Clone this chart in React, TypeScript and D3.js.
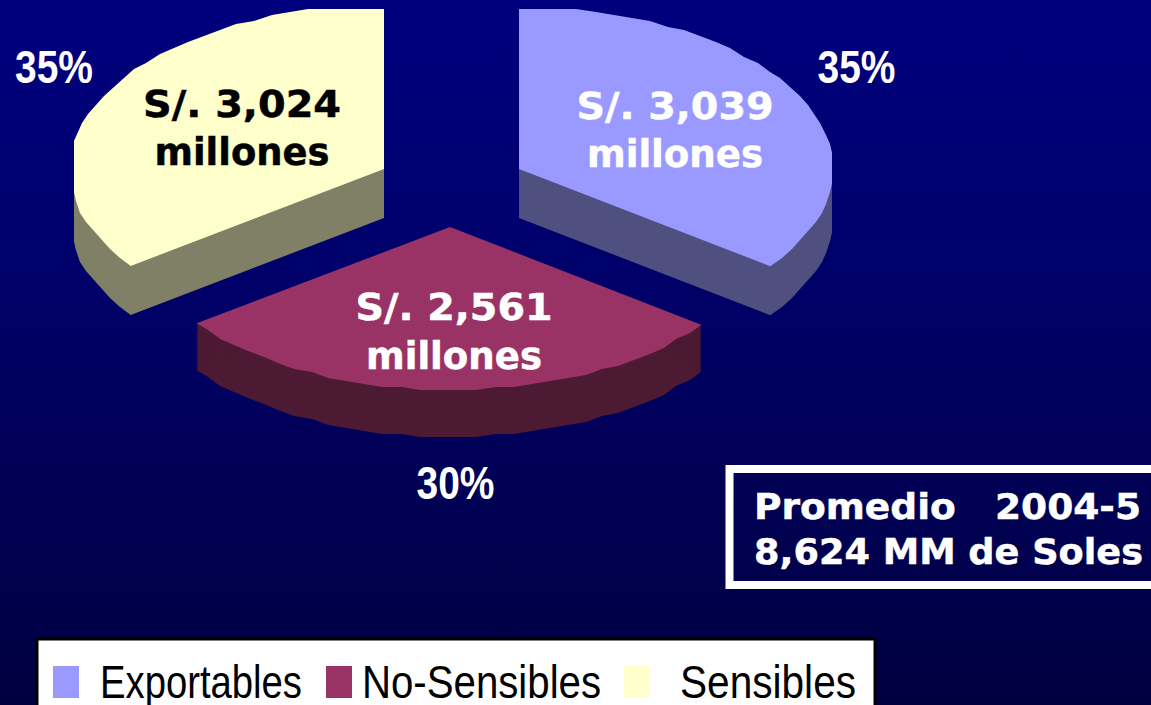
import React from "react";
import * as d3 from "d3";

const categories = ["Exportables", "No-Sensibles", "Sensibles"];
const values = [3039, 2561, 3024];
const percents = ["35%", "30%", "35%"];
const amounts = ["S/. 3,039", "S/. 2,561", "S/. 3,024"];
const topColors = ["#9999ff", "#993366", "#ffffcc"];
const sideColors = ["#4f4f80", "#4d1a33", "#808066"];
const boxLines = ["Promedio   2004-5", "8,624 MM de Soles"];

const W = 1151, H = 705;
const apex = [{ x: 519, y: 169, dy: 49 }, { x: 450, y: 227, dy: 47 }, { x: 384, y: 169, dy: 49 }];
const radius = [
  { rx: 314, ry: 162, minX: 0, maxX: 833 },
  { rx: 314, ry: 163, minX: 0, maxX: 1151 },
  { rx: 314, ry: 164, minX: 73, maxX: 1151 },
];
const amountPos = [
  { x: 675, y1: 119, y2: 167, w1: 197, w2: 176, fill: "#ffffff" },
  { x: 454, y1: 320, y2: 369, w1: 197, w2: 176, fill: "#ffffff" },
  { x: 242, y1: 117, y2: 165, w1: 198, w2: 175, fill: "#000000" },
];
const pctPos = [{ x: 856.5, y: 83 }, { x: 455.5, y: 499 }, { x: 54, y: 83 }];
const legendPos = [
  { sx: 53, tx: 100, tw: 202 },
  { sx: 326, tx: 362, tw: 239 },
  { sx: 624, tx: 680, tw: 176 },
];

const pie = d3.pie<number>().sort(null).startAngle(0).endAngle(2 * Math.PI);
const arcs = pie(values);
const unit = d3.scaleLinear().domain([-1, 1]);
const line = d3.line<[number, number]>();

function slicePoints(i: number): [number, number][] {
  const a = arcs[i], c = apex[i], r = radius[i];
  const sx = unit.copy().range([c.x - r.rx, c.x + r.rx]);
  const sy = unit.copy().range([c.y + r.ry, c.y - r.ry]);
  const n = Math.round(((a.endAngle - a.startAngle) * 180) / Math.PI / 3.5);
  const angle = d3.scaleLinear().domain([0, n]).range([a.startAngle, a.endAngle]);
  const rim: [number, number][] = d3.range(n + 1).map((k) => {
    const t = angle(k);
    const px = Math.min(Math.max(sx(Math.sin(t)), r.minX), r.maxX);
    const py = sy(Math.cos(t));
    if (k === 0 || k === n) return [px, Math.max(py, 9)];
    return [Math.round(px / 2) * 2, Math.max(Math.round(py / 3) * 3, 9)];
  });
  return [[c.x, c.y], ...rim];
}

const narrow = "'Liberation Sans Narrow','Liberation Sans',Arial,sans-serif";
const wide = "'DejaVu Sans',Verdana,sans-serif";

export default function App() {
  return (
    <svg width={W} height={H} viewBox={`0 0 ${W} ${H}`} style={{ position: "fixed", left: 0, top: 0, display: "block" }}>
      <defs>
        <linearGradient id="bg" x1="0" y1="0" x2="0" y2="1">
          <stop offset="0" stopColor="#00007e" />
          <stop offset="0.3" stopColor="#000070" />
          <stop offset="1" stopColor="#000040" />
        </linearGradient>
      </defs>
      <rect width={W} height={H} fill="url(#bg)" />
      {categories.map((c, i) => {
        const pts = slicePoints(i);
        const d = line(pts) + "Z";
        return (
          <g key={c}>
            {d3.range(1, apex[i].dy + 1).map((o) => (
              <path key={o} d={d} transform={`translate(0,${o})`} fill={sideColors[i]} />
            ))}
            <path d={d} fill={topColors[i]} />
          </g>
        );
      })}
      <g fontFamily={wide} fontWeight="bold" fontSize={37} textAnchor="middle" strokeWidth={0.5}>
        {categories.map((c, i) => {
          const p = amountPos[i];
          return (
            <g key={c} fill={p.fill} stroke={p.fill}>
              <text x={p.x} y={p.y1} textLength={p.w1} lengthAdjust="spacingAndGlyphs">{amounts[i]}</text>
              <text x={p.x} y={p.y2} textLength={p.w2} lengthAdjust="spacingAndGlyphs">millones</text>
            </g>
          );
        })}
      </g>
      <g fontFamily={narrow} fontWeight="bold" fontSize={46} textAnchor="middle" fill="#ffffff">
        {percents.map((t, i) => (
          <text key={i} x={pctPos[i].x} y={pctPos[i].y} textLength={78} lengthAdjust="spacingAndGlyphs">{t}</text>
        ))}
      </g>
      <rect x={729.5} y={469} width={440} height={116} fill="none" stroke="#ffffff" strokeWidth={8} />
      <g fontFamily={wide} fontWeight="bold" fontSize={36} fill="#ffffff" stroke="#ffffff" strokeWidth={0.5}>
        <text x={754} y={519} textLength={387} lengthAdjust="spacingAndGlyphs" style={{ whiteSpace: "pre" }}>{boxLines[0]}</text>
        <text x={754} y={564} textLength={389} lengthAdjust="spacingAndGlyphs">{boxLines[1]}</text>
      </g>
      <rect x={37} y={639} width={838} height={80} fill="#ffffff" stroke="#000000" strokeWidth={3} />
      {categories.map((c, i) => (
        <g key={c}>
          <rect x={legendPos[i].sx} y={666} width={26} height={32} fill={topColors[i]} />
          <text x={legendPos[i].tx} y={698} fontFamily={narrow} fontSize={46} fill="#000000" textLength={legendPos[i].tw} lengthAdjust="spacingAndGlyphs">{c}</text>
        </g>
      ))}
    </svg>
  );
}
